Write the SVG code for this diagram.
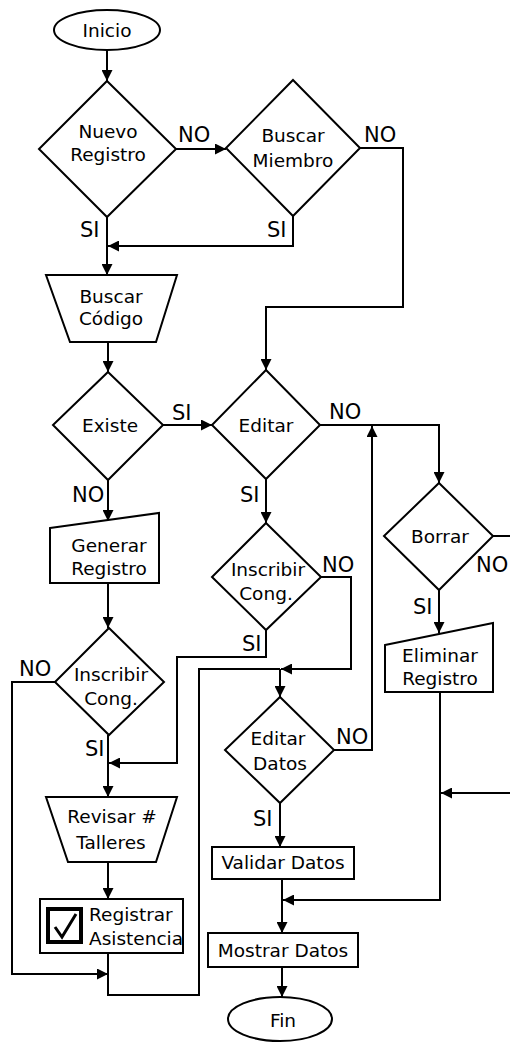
<svg xmlns="http://www.w3.org/2000/svg" width="510" height="1043" viewBox="0 0 510 1043">
<style>
.s{fill:#fff;stroke:#000;stroke-width:2}
.t{font-family:"DejaVu Sans",Verdana,sans-serif;font-size:18.5px;fill:#000;text-anchor:middle}
.l{font-family:"DejaVu Sans",Verdana,sans-serif;font-size:21px;fill:#000}
.c{fill:none;stroke:#000;stroke-width:2}
.a{marker-end:url(#ah)}
</style>
<defs>
<marker id="ah" viewBox="0 0 10 10" refX="10" refY="5" markerWidth="12" markerHeight="11" orient="auto" markerUnits="userSpaceOnUse"><path d="M0,0 L10,5 L0,10 z" fill="#000"/></marker>
</defs>
<rect width="510" height="1043" fill="#fff"/>
<g id="connectors">
<path class="c a" d="M107,50 V81"/>
<path class="c a" d="M176,149 H226"/>
<path class="c a" d="M360,148 H403 V307 H266 V370"/>
<path class="c a" d="M107,217 V275"/>
<path class="c a" d="M293,216 V246 H108"/>
<path class="c a" d="M108,342 V372"/>
<path class="c a" d="M163,425 H212"/>
<path class="c a" d="M108,480 V521"/>
<path class="c a" d="M108,583 V628"/>
<path class="c a" d="M55,682 H12 V974 H108"/>
<path class="c a" d="M108,735 V797"/>
<path class="c a" d="M108,862 V899"/>
<path class="c" d="M108,953 V995 H199 V669 H280"/>
<path class="c a" d="M280,669 V697"/>
<path class="c a" d="M321,577 H351 V669 H281"/>
<path class="c a" d="M266,630 V657 H177 V763 H109"/>
<path class="c a" d="M266,479 V523"/>
<path class="c a" d="M320,425 H439 V483"/>
<path class="c a" d="M334,750 H372 V426"/>
<path class="c a" d="M280,803 V847"/>
<path class="c a" d="M282,879 V933"/>
<path class="c a" d="M440,692 V900 H283"/>
<path class="c a" d="M510,793 H441"/>
<path class="c" d="M493,536 H512"/>
<path class="c a" d="M439,590 V633"/>
<path class="c a" d="M282,967 V997"/>
<text class="l" x="178" y="142">NO</text>
<text class="l" x="364" y="142">NO</text>
<text class="l" x="80" y="237">SI</text>
<text class="l" x="267" y="237">SI</text>
<text class="l" x="172" y="420">SI</text>
<text class="l" x="329" y="419">NO</text>
<text class="l" x="72" y="502">NO</text>
<text class="l" x="240" y="502">SI</text>
<text class="l" x="322" y="572">NO</text>
<text class="l" x="242" y="651">SI</text>
<text class="l" x="19" y="676">NO</text>
<text class="l" x="85" y="756">SI</text>
<text class="l" x="336" y="744">NO</text>
<text class="l" x="253" y="826">SI</text>
<text class="l" x="476" y="572">NO</text>
<text class="l" x="413" y="614">SI</text>
</g>
<g id="inicio">
<ellipse class="s" cx="107" cy="30" rx="53" ry="20"/>
<text class="t" x="107" y="37">Inicio</text>
</g>
<g id="nuevo-registro">
<polygon class="s" points="107,81 176,149 107,217 39,149"/>
<text class="t" x="108" y="138">Nuevo</text>
<text class="t" x="108" y="161">Registro</text>
</g>
<g id="buscar-miembro">
<polygon class="s" points="293,80 360,148 293,216 226,148"/>
<text class="t" x="293" y="142">Buscar</text>
<text class="t" x="293" y="167">Miembro</text>
</g>
<g id="buscar-codigo">
<polygon class="s" points="46,275 177,275 156,342 70,342"/>
<text class="t" x="111" y="303">Buscar</text>
<text class="t" x="111" y="325">Código</text>
</g>
<g id="existe">
<polygon class="s" points="108,372 163,425 108,480 53,425"/>
<text class="t" x="110" y="432">Existe</text>
</g>
<g id="editar">
<polygon class="s" points="266,370 320,425 266,479 212,425"/>
<text class="t" x="266" y="432">Editar</text>
</g>
<g id="generar-registro">
<polygon class="s" points="50,528 159,513 159,583 50,583"/>
<text class="t" x="109" y="552">Generar</text>
<text class="t" x="109" y="575">Registro</text>
</g>
<g id="inscribir-cong-1">
<polygon class="s" points="109,628 164,682 109,735 55,682"/>
<text class="t" x="111" y="681">Inscribir</text>
<text class="t" x="111" y="705">Cong.</text>
</g>
<g id="inscribir-cong-2">
<polygon class="s" points="266,523 321,577 266,630 212,577"/>
<text class="t" x="268" y="576">Inscribir</text>
<text class="t" x="266" y="600">Cong.</text>
</g>
<g id="editar-datos">
<polygon class="s" points="280,697 334,750 280,803 225,750"/>
<text class="t" x="278" y="745">Editar</text>
<text class="t" x="280" y="770">Datos</text>
</g>
<g id="borrar">
<polygon class="s" points="439,483 493,536 439,590 384,536"/>
<text class="t" x="440" y="543">Borrar</text>
</g>
<g id="eliminar-registro">
<polygon class="s" points="385,645 493,623 493,692 385,692"/>
<text class="t" x="440" y="662">Eliminar</text>
<text class="t" x="440" y="685">Registro</text>
</g>
<g id="revisar-talleres">
<polygon class="s" points="46,797 177,797 156,862 68,862"/>
<text class="t" x="112" y="823">Revisar #</text>
<text class="t" x="111" y="849">Talleres</text>
</g>
<g id="registrar-asistencia">
<rect class="s" x="40" y="899" width="143" height="54"/>
<rect x="48" y="909" width="33" height="33" fill="#fff" stroke="#000" stroke-width="4"/>
<path d="M55,927 L62,937 L76,914" fill="none" stroke="#000" stroke-width="3"/>
<text class="t" x="89" y="921" style="text-anchor:start">Registrar</text>
<text class="t" x="89" y="945" style="text-anchor:start">Asistencia</text>
</g>
<g id="validar-datos">
<rect class="s" x="212" y="847" width="142" height="32"/>
<text class="t" x="283" y="869">Validar Datos</text>
</g>
<g id="mostrar-datos">
<rect class="s" x="208" y="933" width="150" height="34"/>
<text class="t" x="283" y="957">Mostrar Datos</text>
</g>
<g id="fin">
<ellipse class="s" cx="280" cy="1019" rx="52" ry="22"/>
<text class="t" x="283" y="1027">Fin</text>
</g>
</svg>
